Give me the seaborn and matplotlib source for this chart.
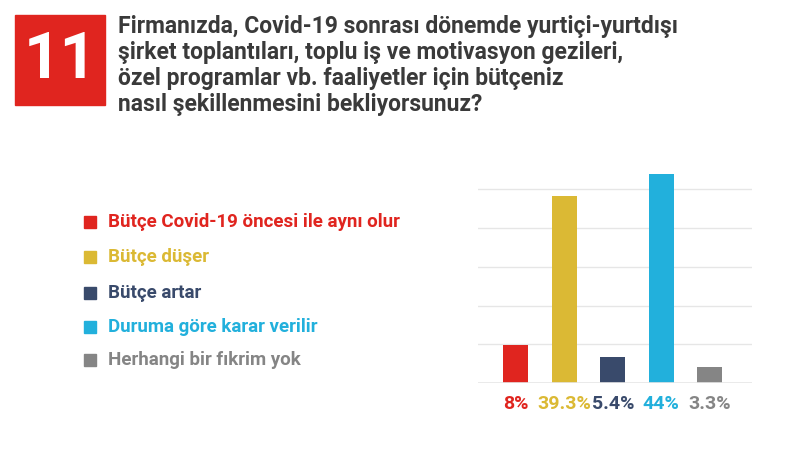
import matplotlib
matplotlib.use("Agg")
import matplotlib.pyplot as plt
import seaborn as sns
import numpy as np
import pandas as pd

categories = ["Bütçe Covid-19 öncesi ile aynı olur", "Bütçe düşer", "Bütçe artar",
              "Duruma göre karar verilir", "Herhangi bir fıkrim yok"]
values = [8, 39.3, 5.4, 44, 3.3]
labels = ["8%", "39.3%", "5.4%", "44%", "3.3%"]
colors = ["#e0251f", "#dbb934", "#394a6b", "#22b0dc", "#858585"]
title_lines = ["Firmanızda, Covid-19 sonrası dönemde yurtiçi-yurtdışı",
               "şirket toplantıları, toplu iş ve motivasyon gezileri,",
               "özel programlar vb. faaliyetler için bütçeniz",
               "nasıl şekillenmesini bekliyorsunuz?"]

plt.rcParams["font.family"] = "Roboto"
W, H = 800, 449
fig = plt.figure(figsize=(8, 4.49), dpi=100)
fig.patch.set_facecolor("white")

ax = fig.add_axes([478/W, (H-383)/H, 274/W, (383-170)/H])
df = pd.DataFrame({"c": categories, "v": values})
sns.barplot(data=df, x="c", y="v", hue="c", palette=colors, width=0.52, ax=ax,
            legend=False, saturation=1)
ax.set_xlim(-0.78, 4.87)
ax.set_ylim(0, 44.8)
ax.set_yticks([8.15 * k for k in range(1, 6)])
ax.yaxis.grid(True, color="#e6e6e6", lw=1)
ax.set_axisbelow(True)
for s in ax.spines.values():
    s.set_visible(False)
ax.axhline(0, color="#e6e6e6", lw=1.2)
ax.tick_params(left=False, bottom=False, labelleft=False, labelbottom=False)
ax.set_xlabel(""); ax.set_ylabel("")
for i, (lab, c) in enumerate(zip(labels, colors)):
    ax.annotate(lab, (i, 0), xytext=(0, -15), textcoords="offset points",
                ha="center", va="center", color=c, fontsize=14, fontweight="bold")

# header badge
fig.patches.append(plt.Rectangle((15/W, 1-105/H), 90/W, 90/H, transform=fig.transFigure,
                                 color="#e0251f"))
fig.text(60/W, 1-61/H, "11", color="white", fontsize=46, fontweight="bold",
         ha="center", va="center")
for k, line in enumerate(title_lines):
    fig.text(118/W, 1-(26+26*k)/H, line, color="#3a3a3a", fontsize=16.5,
             fontweight="bold", ha="left", va="center")

# legend
leg_y = [222, 257, 293, 327, 360]
for y, cat, c in zip(leg_y, categories, colors):
    fig.patches.append(plt.Rectangle((84/W, 1-(y+6)/H), 12/W, 12/H,
                                     transform=fig.transFigure, color=c))
    fig.text(108/W, 1-y/H, cat, color=c, fontsize=13.5, fontweight="bold",
             ha="left", va="center")

fig.savefig("out.png", dpi=100)
